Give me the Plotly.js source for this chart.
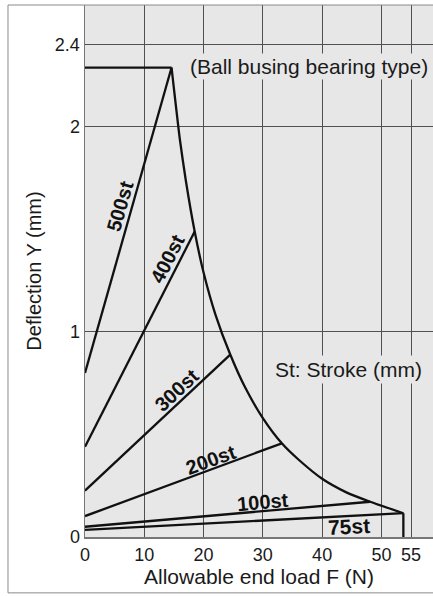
<!DOCTYPE html>
<html>
<head>
<meta charset="utf-8">
<script src="https://cdn.plot.ly/plotly-3.0.1.min.js"></script>
<style>
  html, body { margin: 0; padding: 0; background: #ffffff; }
  #chart { width: 433px; height: 596px; }
</style>
</head>
<body>
<div id="chart"></div>
<script>
// Stroke lines: from (0, startY) to the allowable-load envelope (endX, endY)
const strokes = ['500st', '400st', '300st', '200st', '100st', '75st'];
const startY = [0.80, 0.44, 0.226, 0.102, 0.05, 0.035];
const endX = [14.6, 18.5, 24.5, 33.2, 48.1, 53.7];
const endY = [2.29, 1.49, 0.89, 0.457, 0.172, 0.116];

// Maximum deflection plateau
const plateauX = [0, 14.6];
const plateauY = [2.29, 2.29];
// Allowable end-load boundary curve
const envX = [14.6, 16.0, 17.0, 18.5, 20.0, 22.0, 24.5, 27.0, 30.0, 33.2, 36.0, 40.0, 44.0, 48.1, 53.7];
const envY = [2.29, 1.94, 1.74, 1.49, 1.29, 1.085, 0.89, 0.73, 0.58, 0.457, 0.378, 0.284, 0.219, 0.172, 0.116];
// Drop at the maximum load
const dropX = [53.7, 53.7];
const dropY = [0.116, 0];

const xTicks = [0, 10, 20, 30, 40, 50, 55];
const yTicks = [0, 1, 2, 2.4];
const yTickText = ['0', '1', '2', '2.4'];

const lineStyle = { color: '#111111', width: 2.3 };
const traces = strokes.map((name, i) => ({
  type: 'scatter', mode: 'lines', name: name,
  x: [0, endX[i]], y: [startY[i], endY[i]],
  line: lineStyle, hoverinfo: 'skip'
}));
traces.push({ type: 'scatter', mode: 'lines', x: plateauX, y: plateauY, line: lineStyle, hoverinfo: 'skip' });
traces.push({ type: 'scatter', mode: 'lines', x: envX, y: envY,
  line: { color: '#111111', width: 2.3, shape: 'spline', smoothing: 0.6 }, hoverinfo: 'skip' });
traces.push({ type: 'scatter', mode: 'lines', x: dropX, y: dropY, line: lineStyle, hoverinfo: 'skip' });

const labelFont = { family: 'Liberation Sans, Arial, sans-serif', size: 20, color: '#111111', weight: 'bold' };
const labelPos = [
  { x: 5.9, y: 1.615, a: -74, s: 20 },
  { x: 13.9, y: 1.356, a: -63, s: 20 },
  { x: 15.5, y: 0.717, a: -43, s: 20 },
  { x: 21.1, y: 0.378, a: -20, s: 20 },
  { x: 30.0, y: 0.173, a: -5, s: 20 },
  { x: 44.5, y: 0.051, a: -3, s: 21 }
];
const annotations = strokes.map((s, i) => ({
  x: labelPos[i].x, y: labelPos[i].y, xref: 'x', yref: 'y',
  text: s, showarrow: false, textangle: labelPos[i].a,
  xanchor: 'center', yanchor: 'middle',
  font: Object.assign({}, labelFont, { size: labelPos[i].s })
}));
const textFont = { family: 'Liberation Sans, Arial, sans-serif', size: 21, color: '#1a1a1a' };
annotations.push({
  x: 37.8, y: 2.293, xref: 'x', yref: 'y', text: '(Ball busing bearing type)',
  showarrow: false, xanchor: 'center', yanchor: 'middle', font: textFont,
  bgcolor: '#e7e7e7', borderpad: 1
});
annotations.push({
  x: 44.5, y: 0.815, xref: 'x', yref: 'y', text: 'St: Stroke (mm)',
  showarrow: false, xanchor: 'center', yanchor: 'middle', font: textFont,
  bgcolor: '#e7e7e7', borderpad: 2
});

const layout = {
  width: 433, height: 596,
  margin: { l: 85, r: 0, t: 5, b: 59 },
  paper_bgcolor: '#ffffff',
  plot_bgcolor: '#e7e7e7',
  showlegend: false,
  font: { family: 'Liberation Sans, Arial, sans-serif', color: '#1a1a1a' },
  xaxis: {
    range: [0, 58.7], tickvals: xTicks, ticktext: xTicks.map(String),
    showgrid: true, gridcolor: '#505050', gridwidth: 1,
    zeroline: false, showline: true, linecolor: '#777777', linewidth: 2,
    ticks: '', tickfont: { size: 18, color: '#1a1a1a' },
    title: { text: 'Allowable end load F (N)', font: { size: 21, color: '#1a1a1a' }, standoff: 6 },
    fixedrange: true
  },
  yaxis: {
    range: [0, 2.595], tickvals: yTicks, ticktext: yTickText,
    showgrid: true, gridcolor: '#505050', gridwidth: 1,
    zeroline: false, showline: true, linecolor: '#777777', linewidth: 1.5,
    ticks: '', tickfont: { size: 18, color: '#1a1a1a' },
    title: { text: 'Deflection Y (mm)', font: { size: 20, color: '#1a1a1a' }, standoff: 8 },
    fixedrange: true
  },
  shapes: [{
    type: 'rect', xref: 'paper', yref: 'paper',
    x0: -0.2213, x1: 1.05, y0: -0.105, y1: 1.0,
    line: { color: '#8a8a8a', width: 1 }, fillcolor: 'rgba(0,0,0,0)', layer: 'above'
  }],
  annotations: annotations
};

Plotly.newPlot('chart', traces, layout, { staticPlot: true, displayModeBar: false });
</script>
</body>
</html>
